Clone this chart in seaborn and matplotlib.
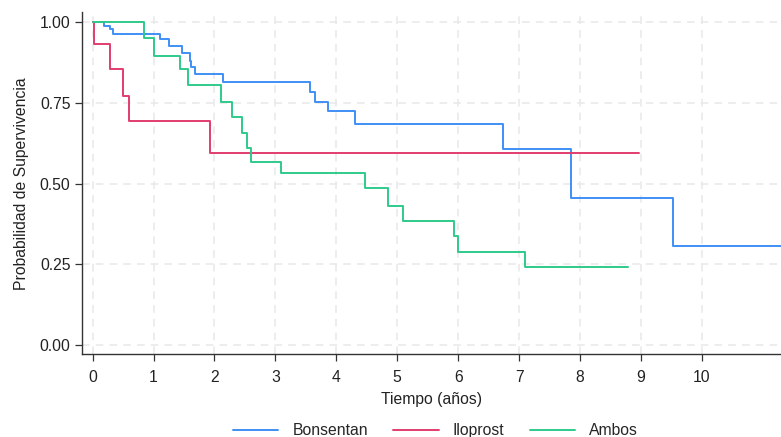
import numpy as np
import pandas as pd
import matplotlib
matplotlib.use("Agg")
import matplotlib.pyplot as plt
import seaborn as sns

# --- Data (Kaplan-Meier steps) ---
groups = ["Bonsentan", "Iloprost", "Ambos"]

bos_times = [0.0, 0.18, 0.29, 0.34, 1.11, 1.26, 1.46, 1.59, 1.62, 1.68, 2.14,
             3.57, 3.65, 3.86, 4.31, 6.74, 7.85, 9.53, 11.5]
bos_surv = [1.0, 0.989, 0.979, 0.963, 0.947, 0.927, 0.906, 0.881, 0.862, 0.840,
            0.815, 0.785, 0.754, 0.725, 0.685, 0.606, 0.456, 0.305, 0.305]

ilo_times = [0.0, 0.025, 0.29, 0.495, 0.59, 1.93, 8.97]
ilo_surv = [1.0, 0.933, 0.856, 0.771, 0.694, 0.595, 0.595]

amb_times = [0.0, 0.85, 1.0, 1.44, 1.57, 2.10, 2.28, 2.45, 2.53, 2.60, 3.10,
             4.47, 4.85, 5.09, 5.93, 6.00, 7.10, 8.79]
amb_surv = [1.0, 0.950, 0.896, 0.854, 0.806, 0.753, 0.707, 0.658, 0.610, 0.568,
            0.532, 0.486, 0.431, 0.384, 0.336, 0.288, 0.241, 0.241]

x_ticks = [0, 1, 2, 3, 4, 5, 6, 7, 8, 9, 10]
y_ticks = [0.0, 0.25, 0.5, 0.75, 1.0]
y_ticklabels = ["0.00", "0.25", "0.50", "0.75", "1.00"]

colors = {"Bonsentan": "#3f8ff5", "Iloprost": "#e23d6e", "Ambos": "#2fca8b"}

frames = []
for g, t, s in zip(groups, [bos_times, ilo_times, amb_times],
                   [bos_surv, ilo_surv, amb_surv]):
    frames.append(pd.DataFrame({"Tiempo": t, "Surv": s, "Grupo": g}))
df = pd.concat(frames, ignore_index=True)

sns.set_style("white")
plt.rcParams["font.family"] = ["Liberation Sans", "DejaVu Sans"]

FS = 11.3

fig = plt.figure(figsize=(7.81, 4.37), dpi=100)
ax = fig.add_axes([0.1046, 0.1888, 0.8954, 0.7837])

sns.lineplot(data=df, x="Tiempo", y="Surv", hue="Grupo", hue_order=groups,
             palette=colors, estimator=None, sort=False, drawstyle="steps-post",
             linewidth=1.4, ax=ax)

ax.set_xlim(-0.18, 11.3)
ax.set_ylim(-0.03, 1.032)
ax.set_xticks(x_ticks)
ax.set_yticks(y_ticks)
ax.set_yticklabels(y_ticklabels)
ax.grid(True, linestyle=(0, (5, 4)), color="#e8e8e8", linewidth=1.1)
ax.set_axisbelow(True)

for side in ["top", "right"]:
    ax.spines[side].set_visible(False)
for side in ["left", "bottom"]:
    ax.spines[side].set_color("#333333")
    ax.spines[side].set_linewidth(1.0)

ax.tick_params(axis="both", which="major", direction="out", length=5, width=0.9,
               color="#333333", labelsize=FS, labelcolor="#222222",
               bottom=True, left=True, pad=3)
ax.tick_params(axis="x", pad=6)

ax.set_xlabel("Tiempo (años)", fontsize=FS, color="#222222", labelpad=5)
ax.set_ylabel("Probabilidad de Supervivencia", fontsize=FS, color="#222222",
              labelpad=8)

sns.move_legend(ax, "center", bbox_to_anchor=(0.506, -0.222), ncol=3,
                frameon=False, title=None, fontsize=FS, handlelength=2.9,
                handletextpad=0.9, columnspacing=1.6)

fig.savefig("out.png", dpi=100)
